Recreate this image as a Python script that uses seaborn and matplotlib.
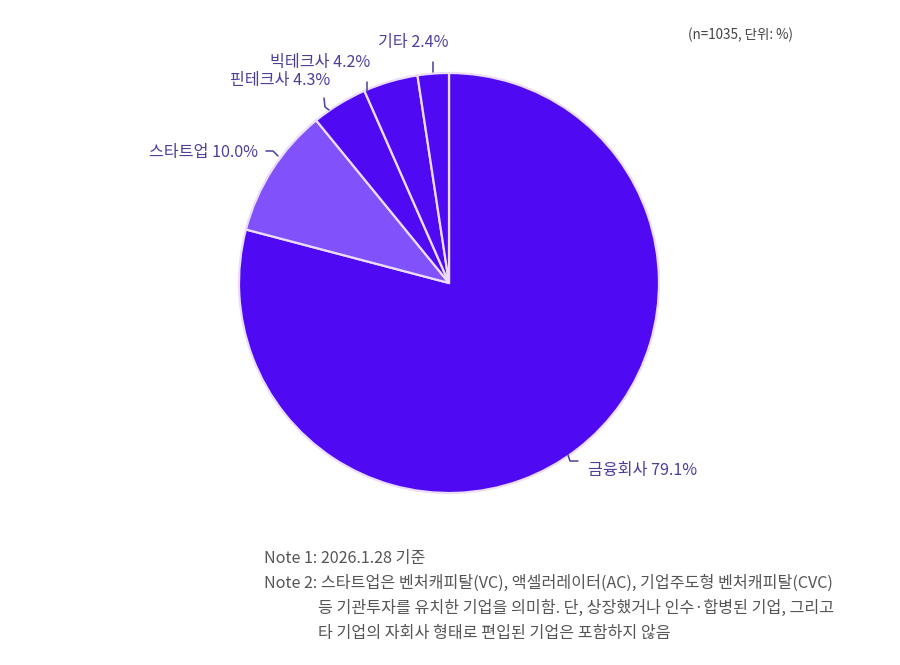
import matplotlib
matplotlib.use('Agg')
import matplotlib.pyplot as plt
import seaborn as sns
from matplotlib.lines import Line2D

categories = ['금융회사', '스타트업', '핀테크사', '빅테크사', '기타']
shares = [79.1, 10.0, 4.3, 4.2, 2.4]
n_total = 1035
colors = ['#5009F3', '#8152FB', '#5009F3', '#5009F3', '#5009F3']

note1 = 'Note 1: 2026.1.28 기준'
note2 = ['Note 2: 스타트업은 벤처캐피탈(VC), 액셀러레이터(AC), 기업주도형 벤처캐피탈(CVC)',
         '등 기관투자를 유치한 기업을 의미함. 단, 상장했거나 인수·합병된 기업, 그리고',
         '타 기업의 자회사 형태로 편입된 기업은 포함하지 않음']

sns.set_theme(style='white')
plt.rcParams['font.family'] = ['Noto Sans CJK KR', 'DejaVu Sans']

W, H = 900, 665
fig = plt.figure(figsize=(W / 100, H / 100), dpi=100)
fig.patch.set_facecolor('white')

# pie centre (449, 283) px, radius 210 px
cx, cy, r = 449, 283, 210
ax = fig.add_axes([(cx - r) / W, (H - cy - r) / H, 2 * r / W, 2 * r / H])
ax.pie(shares, colors=colors, startangle=90, counterclock=False,
       wedgeprops=dict(edgecolor='#EBDDF7', linewidth=1.6))
ax.set_xlim(-1, 1)
ax.set_ylim(-1, 1)
ax.set_aspect('equal')
ax.axis('off')

lab_col = '#4B3F9C'

def px(x, y):
    return x / W, 1 - y / H

# label text positions (px) and little leader hooks (px)
label_pos = {
    '금융회사': (588, 470, 'left'),
    '스타트업': (258, 152, 'right'),
    '핀테크사': (330, 81, 'right'),
    '빅테크사': (370, 63, 'right'),
    '기타': (449, 43, 'right'),
}
hooks = {
    '금융회사': [(568, 455), (570, 461), (578, 461)],
    '스타트업': [(266, 151), (273, 151), (278, 156)],
    '핀테크사': [(324, 98), (325, 107), (329, 110)],
    '빅테크사': [(367, 82), (367, 92)],
    '기타': [(433, 62), (433, 72)],
}

for cat, val in zip(categories, shares):
    x, y, ha = label_pos[cat]
    fig.text(*px(x, y), f'{cat} {val:.1f}%', ha=ha, va='center',
             fontsize=11.6, color=lab_col, fontweight='light')
    pts = [px(a, b) for a, b in hooks[cat]]
    fig.add_artist(Line2D([p[0] for p in pts], [p[1] for p in pts],
                          transform=fig.transFigure, color=lab_col, lw=1.1))

fig.text(*px(793, 35), f'(n={n_total}, 단위: %)', ha='right', va='center',
         fontsize=9.7, color='#444444', fontweight='light')

note_col = '#555555'
note_kw = dict(ha='left', va='center', fontsize=11.6, color=note_col, fontweight='light')
fig.text(*px(264, 558), note1, **note_kw)
fig.text(*px(264, 583), note2[0], **note_kw)
fig.text(*px(318, 608), note2[1], **note_kw)
fig.text(*px(318, 633), note2[2], **note_kw)

fig.savefig('out.png', dpi=100)
